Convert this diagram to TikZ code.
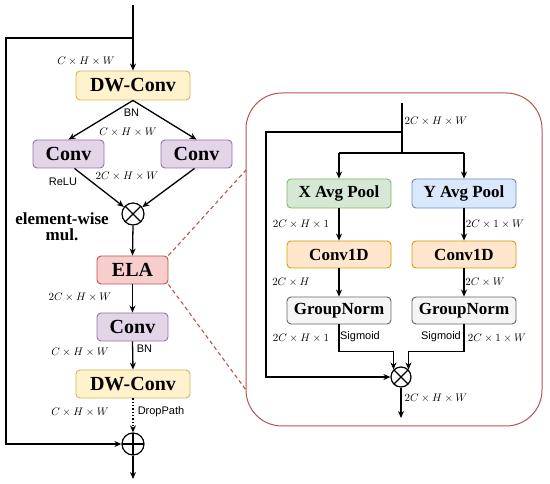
\documentclass[tikz,border=0pt]{standalone}
\usepackage{fontspec}
\setmainfont{Liberation Serif}
\setsansfont{Liberation Sans}
\usetikzlibrary{arrows.meta,calc}
\definecolor{yfill}{HTML}{FFF2CC}\definecolor{ydraw}{HTML}{D6B656}
\definecolor{pfill}{HTML}{E1D5E7}\definecolor{pdraw}{HTML}{9673A6}
\definecolor{rfill}{HTML}{F8CECC}\definecolor{rdraw}{HTML}{B85450}
\definecolor{gfill}{HTML}{D5E8D4}\definecolor{gdraw}{HTML}{82B366}
\definecolor{bfill}{HTML}{DAE8FC}\definecolor{bdraw}{HTML}{6C8EBF}
\definecolor{ofill}{HTML}{FFE6CC}\definecolor{odraw}{HTML}{D79B00}
\definecolor{nfill}{HTML}{F5F5F5}\definecolor{ndraw}{HTML}{666666}
\tikzset{
  box/.style={draw, rounded corners=4pt, line width=0.9pt, inner sep=0pt,
    font=\fontsize{20}{20}\selectfont\bfseries},
  sbox/.style={box, minimum width=104pt, font=\fontsize{17}{17}\selectfont\bfseries},
  yel/.style={fill=yfill, draw=ydraw},
  pur/.style={fill=pfill, draw=pdraw},
  red/.style={fill=rfill, draw=rdraw},
  grn/.style={fill=gfill, draw=gdraw},
  blu/.style={fill=bfill, draw=bdraw},
  org/.style={fill=ofill, draw=odraw},
  gry/.style={fill=nfill, draw=ndraw},
  ln/.style={line width=1.3pt},
  arr/.style={ln, -{Stealth[length=7pt,width=6pt]}},
  mlab/.style={inner sep=0pt, font=\fontsize{11}{11}\selectfont},
  slab/.style={inner sep=0pt, font=\sffamily\fontsize{11}{11}\selectfont},
  mulc/.style={circle, draw, line width=1.2pt, inner sep=0pt, minimum size=#1,
    path picture={\draw[line width=1.2pt] (path picture bounding box.north west) -- (path picture bounding box.south east)
      (path picture bounding box.north east) -- (path picture bounding box.south west);}},
  addc/.style={circle, draw, line width=1.2pt, inner sep=0pt, minimum size=22pt,
    path picture={\draw[line width=1.2pt] (path picture bounding box.north) -- (path picture bounding box.south)
      (path picture bounding box.east) -- (path picture bounding box.west);}},
}
\begin{document}
\begin{tikzpicture}[x=1pt,y=-1pt]
\useasboundingbox (0,0) rectangle (550,484);
% ---------------- left column ----------------
\node[box,yel,minimum width=114pt,minimum height=29pt] (dw1) at (133,85.5) {DW-Conv};
\node[box,pur,minimum width=71pt,minimum height=28pt] (convL) at (68.5,154) {Conv};
\node[box,pur,minimum width=71pt,minimum height=28pt] (convR) at (196.5,154) {Conv};
\node[mulc=22pt] (mul) at (133,214) {};
\node[box,red,minimum width=71pt,minimum height=28pt] (ela) at (132.5,270) {ELA};
\node[box,pur,minimum width=71pt,minimum height=28pt] (convM) at (132.5,327) {Conv};
\node[box,yel,minimum width=114pt,minimum height=28pt] (dw2) at (133,384) {DW-Conv};
\node[addc] (add) at (133,444) {};
\coordinate (in) at (133,5);
\coordinate (split) at (133,38);
\coordinate (skip) at (6,38);
\coordinate (out) at (133,479);

\draw[arr] (in) -- (dw1.north);
\draw[arr] (split) -- (skip) |- (add.west);
\draw[arr] (dw1.south) -- (convL.north);
\draw[arr] (dw1.south) -- (convR.north);
\draw[arr] ([xshift=6pt]convL.south) -- (mul);
\draw[arr] ([xshift=-2pt]convR.south) -- (mul);
\draw[arr] (mul.south) -- (ela.north);
\draw[arr] (ela.south) -- (convM.north);
\draw[arr] (convM.south) -- (dw2.north);
\draw[arr, dotted] (dw2.south) -- (add.north);
\draw[arr] (add.south) -- (out);

\node[mlab] (t1) at (86,61) {$C\times H\times W$};
\node[slab] (t2) at (131.5,113) {BN};
\node[mlab] (t3) at (128,132) {$C\times H\times W$};
\node[slab] (t4) at (63,182) {ReLU};
\node[mlab] (t5) at (127,176) {$2C\times H\times W$};
\node[inner sep=0pt, font=\fontsize{17}{17}\selectfont\bfseries, align=center] (t6) at (62,227)
  {element-wise\\[-1pt]mul.};
\node[mlab] (t7) at (80,297) {$2C\times H\times W$};
\node[mlab] (t8) at (80,352) {$C\times H\times W$};
\node[slab] (t9) at (144.5,349) {BN};
\node[mlab] (t10) at (80,412) {$C\times H\times W$};
\node[slab] (t11) at (161,412) {DropPath};

% ---------------- right panel ----------------
\node[draw=rdraw, line width=1pt, rounded corners=36pt, minimum width=296pt, minimum height=333pt, inner sep=0pt] (panel) at (394,259.5) {};
\coordinate (dA) at (246,170);
\coordinate (dB) at (246,390);
\draw[rdraw, line width=1.1pt, dash pattern=on 4pt off 3pt] (ela.north east) -- (dA);
\draw[rdraw, line width=1.1pt, dash pattern=on 4pt off 3pt] (ela.south east) -- (dB);

\node[sbox,grn,minimum height=29pt] (xp) at (339,193.5) {X Avg Pool};
\node[sbox,blu,minimum height=29pt] (yp) at (464,193.5) {Y Avg Pool};
\node[sbox,org,minimum height=27pt] (c1L) at (339,254.5) {Conv1D};
\node[sbox,org,minimum height=27pt] (c1R) at (464,254.5) {Conv1D};
\node[sbox,gry,minimum height=27pt] (gnL) at (339,310.5) {GroupNorm};
\node[sbox,gry,minimum height=27pt] (gnR) at (464,310.5) {GroupNorm};
\node[mulc=20pt] (mul2) at (401,377) {};

\coordinate (pin) at (402,103);
\coordinate (pskip) at (402,132);
\coordinate (psplit) at (402,153);
\coordinate (pl) at (339,153);
\coordinate (pr) at (464,153);
\coordinate (pskipL) at (266,132);
\coordinate (pout) at (401,418);

\draw[ln] (pin) -- (psplit);
\draw[ln] (pl) -- (pr);
\draw[arr] (pl) -- (xp.north);
\draw[arr] (pr) -- (yp.north);
\draw[arr] (pskip) -- (pskipL) |- (mul2.west);
\draw[arr] (xp.south) -- (c1L.north);
\draw[arr] (yp.south) -- (c1R.north);
\draw[arr] (c1L.south) -- (gnL.north);
\draw[arr] (c1R.south) -- (gnR.north);
\draw[arr] (gnL.south) |- ([yshift=18pt]mul2.north west) -- (mul2.north west);
\draw[arr] (gnR.south) |- ([yshift=18pt]mul2.north east) -- (mul2.north east);
\draw[arr] (mul2.south) -- (pout);

\node[mlab] (r1) at (436,121) {$2C\times H\times W$};
\node[mlab] (r2) at (301,224) {$2C\times H\times 1$};
\node[mlab] (r3) at (495,224) {$2C\times 1\times W$};
\node[mlab] (r4) at (291,282) {$2C\times H$};
\node[mlab] (r5) at (485,282) {$2C\times W$};
\node[mlab] (r6) at (301,338) {$2C\times H\times 1$};
\node[slab] (r7) at (360,337) {Sigmoid};
\node[slab] (r8) at (441,337) {Sigmoid};
\node[mlab] (r9) at (497,338) {$2C\times 1\times W$};
\node[mlab] (r10) at (436,398) {$2C\times H\times W$};
\end{tikzpicture}
\end{document}
